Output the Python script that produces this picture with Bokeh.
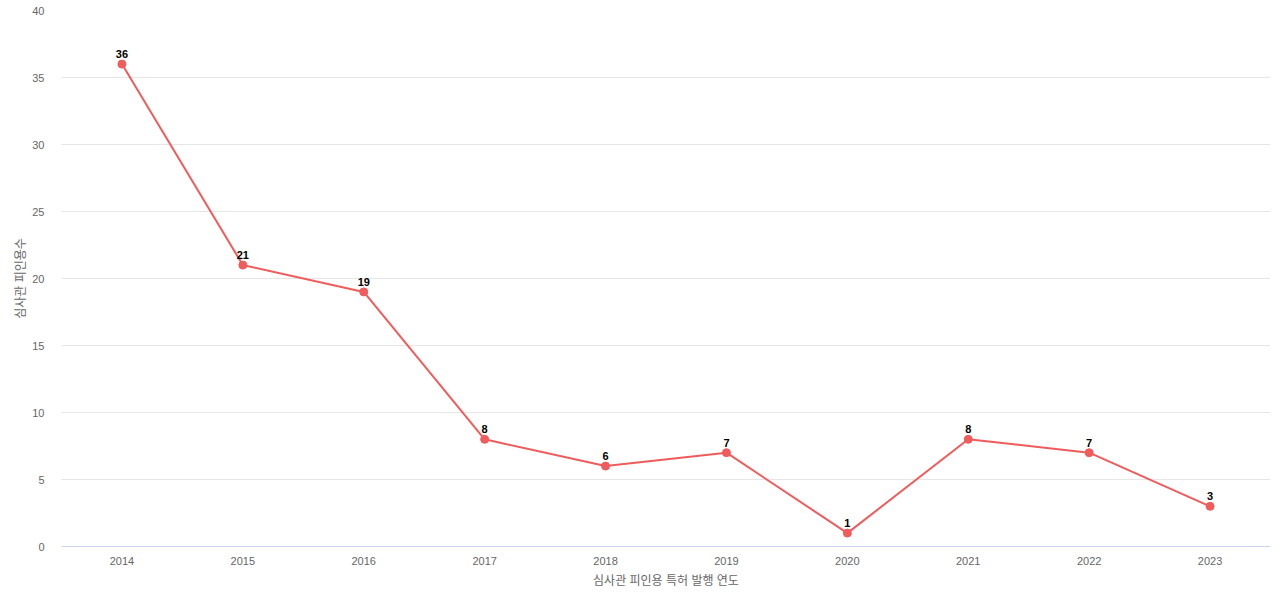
from bokeh.plotting import figure
from bokeh.models import ColumnDataSource, Range1d, FixedTicker
from bokeh.core.properties import value
from bokeh.embed import file_html
from bokeh.resources import INLINE

years = ["2014", "2015", "2016", "2017", "2018", "2019", "2020", "2021", "2022", "2023"]
counts = [36, 21, 19, 8, 6, 7, 1, 8, 7, 3]
y_ticks = [0, 5, 10, 15, 20, 25, 30, 35, 40]

FONT = "Liberation Sans, Noto Sans CJK KR, sans-serif"
src = ColumnDataSource(dict(x=years, y=counts, lbl=[str(c) for c in counts]))

p = figure(width=1280, height=600, x_range=years, y_range=Range1d(0, 40),
           output_backend="svg", toolbar_location=None,
           min_border_left=61, min_border_right=10, min_border_top=10, min_border_bottom=54)
p.outline_line_color = None
p.background_fill_color = "white"

p.line("x", "y", source=src, line_color="#f05b5b", line_width=2)
p.scatter("x", "y", source=src, size=8, fill_color="#f05b5b", line_color="#f05b5b")
p.text("x", "y", text="lbl", source=src, text_align="center", text_baseline="bottom",
       y_offset=-6, text_font=value(FONT), text_font_size="11px", text_font_style="bold",
       text_color="#000000")

p.xgrid.grid_line_color = None
p.ygrid.grid_line_color = "#e6e6e6"
p.ygrid.ticker = FixedTicker(ticks=y_ticks)

p.yaxis.ticker = FixedTicker(ticks=y_ticks)
p.yaxis.axis_line_color = None
p.yaxis.major_tick_line_color = None
p.yaxis.minor_tick_line_color = None
p.yaxis.major_label_standoff = 11
p.yaxis.axis_label = "심사관 피인용수"
p.yaxis.axis_label_standoff = 1
p.yaxis.axis_label_text_font_style = "normal"

p.xaxis.axis_line_color = "#ccd6eb"
p.xaxis.major_tick_line_color = None
p.xaxis.minor_tick_line_color = None
p.xaxis.major_label_standoff = 4
p.xaxis.axis_label = "심사관 피인용 특허 발행 연도"
p.xaxis.axis_label_standoff = 6
p.xaxis.axis_label_text_font_style = "normal"

for ax in (p.xaxis[0], p.yaxis[0]):
    ax.major_label_text_font = FONT
    ax.major_label_text_font_size = "11px"
    ax.major_label_text_color = "#666666"
    ax.axis_label_text_font = FONT
    ax.axis_label_text_font_size = "12px"
    ax.axis_label_text_color = "#666666"

open("out.html", "w").write(file_html(p, INLINE))
